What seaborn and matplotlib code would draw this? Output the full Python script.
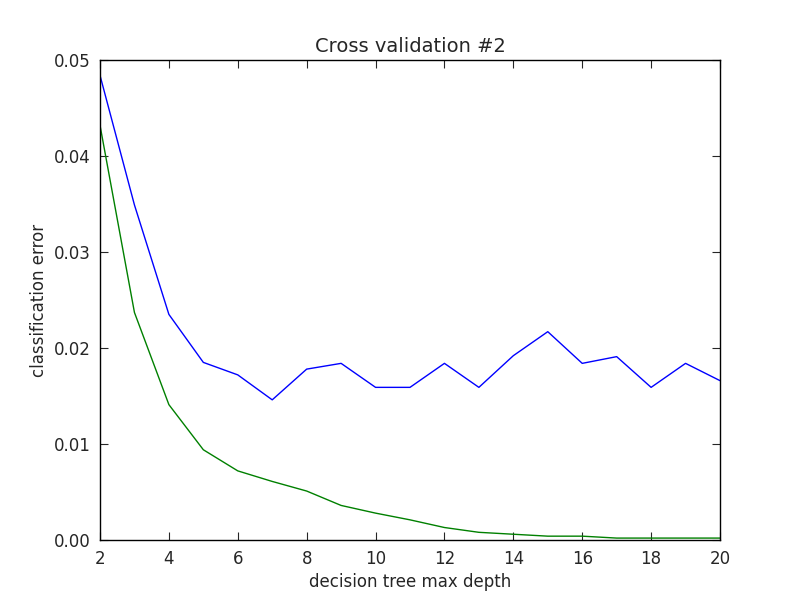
import numpy as np
import pandas as pd
import matplotlib
matplotlib.use("Agg")
import matplotlib.pyplot as plt
import seaborn as sns

depth = list(range(2, 21))
cv_error = [0.0484, 0.0349, 0.0235, 0.0185, 0.0172, 0.0146, 0.0178, 0.0184, 0.0159, 0.0159,
            0.0184, 0.0159, 0.0192, 0.0217, 0.0184, 0.0191, 0.0159, 0.0184, 0.0166]
train_error = [0.0432, 0.0237, 0.0141, 0.0094, 0.0072, 0.0061, 0.0051, 0.0036, 0.0028, 0.0021,
               0.0013, 0.0008, 0.0006, 0.0004, 0.0004, 0.0002, 0.0002, 0.0002, 0.0002]

sns.set_style("ticks")
plt.rcParams['font.family'] = ['DejaVu Sans']

fig = plt.figure(figsize=(8, 6), dpi=100)
ax = fig.add_axes([0.125, 0.1, 0.775, 0.8])
sns.lineplot(x=depth, y=cv_error, color='blue', lw=1, ax=ax)
sns.lineplot(x=depth, y=train_error, color='green', lw=1, ax=ax)
ax.set_xlim(2, 20)
ax.set_ylim(0, 0.05)
ax.set_xticks(range(2, 21, 2))
ax.set_yticks(np.arange(0, 0.051, 0.01))
ax.yaxis.set_major_formatter(matplotlib.ticker.FormatStrFormatter('%.2f'))
ax.tick_params(direction='in', top=True, right=True, labelsize=12, length=6, pad=7)
for s in ax.spines.values():
    s.set_color('black')
    s.set_linewidth(1)
ax.set_xlabel('decision tree max depth', fontsize=12)
ax.set_ylabel('classification error', fontsize=12)
ax.set_title('Cross validation #2', fontsize=14)
fig.savefig('out.png', dpi=100)
